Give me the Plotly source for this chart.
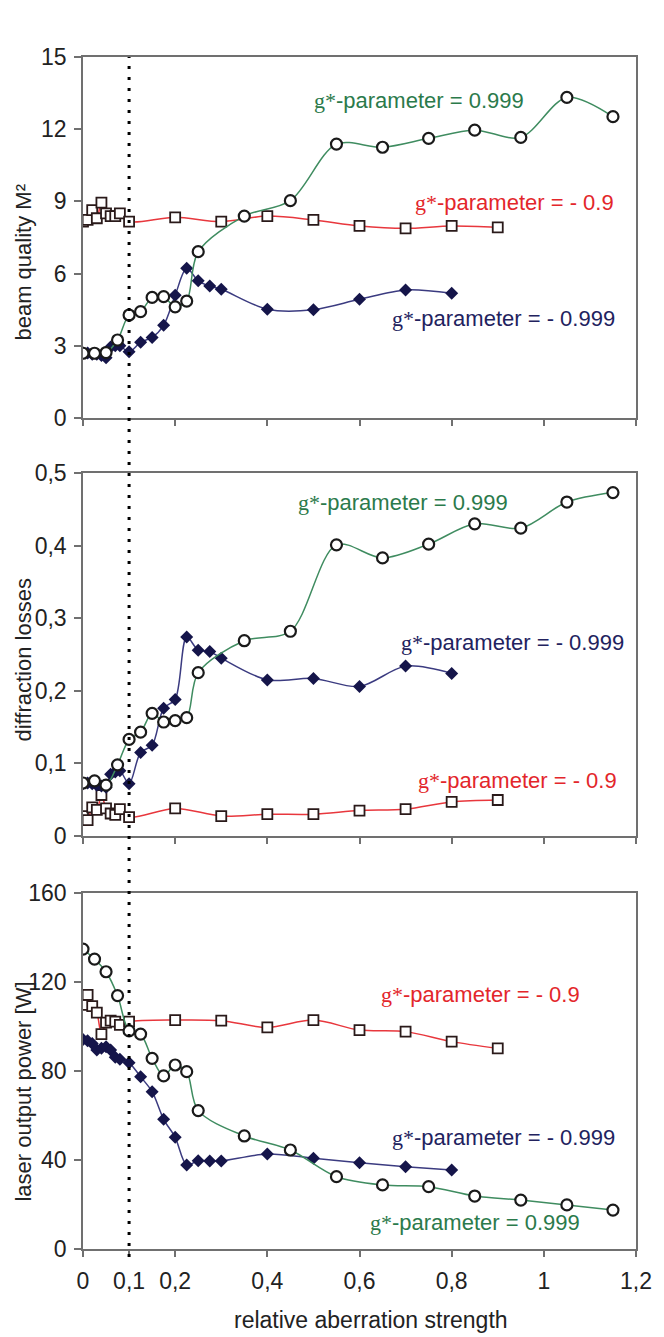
import plotly.graph_objects as go
from plotly.subplots import make_subplots

# ---------------- data ----------------
x_green = [0, 0.025, 0.05, 0.075, 0.1, 0.125, 0.15, 0.175, 0.2, 0.225, 0.25,
           0.35, 0.45, 0.55, 0.65, 0.75, 0.85, 0.95, 1.05, 1.15]
x_red = [0, 0.01, 0.02, 0.03, 0.04, 0.05, 0.06, 0.07, 0.08, 0.1,
         0.2, 0.3, 0.4, 0.5, 0.6, 0.7, 0.8, 0.9]
x_navy = [0, 0.01, 0.02, 0.03, 0.04, 0.05, 0.06, 0.07, 0.08, 0.1, 0.125, 0.15,
          0.175, 0.2, 0.225, 0.25, 0.275, 0.3, 0.4, 0.5, 0.6, 0.7, 0.8]

# beam quality M^2
m2_green = [2.69, 2.69, 2.72, 3.24, 4.28, 4.42, 5.01, 5.04, 4.62, 4.86, 6.91,
            8.39, 9.03, 11.38, 11.25, 11.62, 11.96, 11.66, 13.32, 12.52]
m2_red = [8.16, 8.23, 8.64, 8.3, 8.95, 8.5, 8.39, 8.39, 8.5, 8.16,
          8.34, 8.16, 8.39, 8.23, 7.98, 7.88, 7.98, 7.92]
m2_navy = [2.7, 2.7, 2.65, 2.65, 2.6, 2.5, 2.95, 3.0, 3.0, 2.75, 3.15, 3.35,
           3.85, 5.1, 6.22, 5.7, 5.48, 5.35, 4.52, 4.5, 4.93, 5.32, 5.18]

# diffraction losses
dl_green = [0.073, 0.076, 0.070, 0.098, 0.133, 0.143, 0.169, 0.157, 0.159, 0.163, 0.225,
            0.269, 0.282, 0.401, 0.383, 0.402, 0.430, 0.424, 0.460, 0.473]
dl_red = [0.0275, 0.022, 0.0395, 0.036, 0.0565, 0.038, 0.031, 0.029, 0.037, 0.026,
          0.038, 0.0275, 0.030, 0.030, 0.035, 0.037, 0.047, 0.0496]
dl_navy = [0.072, 0.073, 0.072, 0.070, 0.069, 0.067, 0.085, 0.088, 0.090, 0.072, 0.115, 0.125,
           0.176, 0.188, 0.274, 0.256, 0.254, 0.245, 0.215, 0.217, 0.206, 0.234, 0.224]

# laser output power [W]
pw_green = [134.8, 130.3, 124.6, 113.9, 98.0, 96.6, 85.7, 77.8, 82.7, 79.7, 62.2,
            50.8, 44.5, 32.5, 28.8, 28.0, 23.8, 22.0, 19.8, 17.5]
pw_red = [109.7, 114.2, 109.2, 106.2, 96.6, 101.7, 102.6, 102.2, 100.7, 102.2,
          102.9, 102.6, 99.6, 102.9, 98.4, 97.7, 93.2, 90.2]
pw_navy = [94.2, 93.6, 92.4, 89.4, 90.2, 90.9, 89.4, 86.2, 85.3, 83.7, 77.4, 70.7,
           58.3, 50.2, 37.8, 39.7, 39.6, 39.6, 42.7, 40.8, 38.8, 37.0, 35.5]

x_ticks = [0, 0.1, 0.2, 0.4, 0.6, 0.8, 1, 1.2]
y_titles = ["beam quality M²", "diffraction losses", "laser output power [W]"]
x_title = "relative aberration strength"
lbl_green = "0.999"
lbl_red = "- 0.9"
lbl_navy = "- 0.999"

# ---------------- style ----------------
FONT = "Liberation Sans, Arial, sans-serif"
SERIF = "Liberation Serif"
C_GREEN_L, C_GREEN_T = "#3f8c60", "#2b7a4b"
C_RED_L, C_RED_T = "#e8373d", "#e3262b"
C_NAVY_L, C_NAVY_T = "#3b3b80", "#22225e"
AX = "#707070"

fig = make_subplots(rows=3, cols=1)

panels = [
    (m2_green, m2_red, m2_navy),
    (dl_green, dl_red, dl_navy),
    (pw_green, pw_red, pw_navy),
]

for i, (g, r, n) in enumerate(panels, start=1):
    fig.add_trace(go.Scatter(x=x_red, y=r, mode="lines+markers",
                             line=dict(color=C_RED_L, width=1.5, shape="spline", smoothing=0.9),
                             marker=dict(symbol="square", size=10, color="white",
                                         line=dict(color="#2a1a1a", width=1.8)),
                             showlegend=False), row=i, col=1)
    fig.add_trace(go.Scatter(x=x_navy, y=n, mode="lines+markers",
                             line=dict(color=C_NAVY_L, width=1.5, shape="spline", smoothing=0.9),
                             marker=dict(symbol="diamond", size=10, color="#15154a",
                                         line=dict(width=0)),
                             showlegend=False), row=i, col=1)
    fig.add_trace(go.Scatter(x=x_green, y=g, mode="lines+markers",
                             line=dict(color=C_GREEN_L, width=1.5, shape="spline", smoothing=0.9),
                             marker=dict(symbol="circle", size=11, color="white",
                                         line=dict(color="#1a1a1a", width=2.2)),
                             showlegend=False), row=i, col=1)

# geometry (page body has an 8px margin, compensate for it)
OFF = 8
W, H = 664 - OFF, 1337 - OFF
L, R, T, B = 83 - OFF, 23, 57 - OFF, 88
ph = H - T - B
pw = W - L - R
def py(p):  # page pixel y -> paper
    return 1 - (p - OFF - T) / ph
def px(p):  # page pixel x -> paper
    return (p - OFF - L) / pw

doms = [(py(418), py(57)), (py(836), py(473)), (py(1249), py(893))]
yranges = [[0, 15], [0, 0.5], [0, 160]]
ydticks = [3, 0.1, 40]

for i in range(3):
    xa = "xaxis" if i == 0 else f"xaxis{i+1}"
    ya = "yaxis" if i == 0 else f"yaxis{i+1}"
    fig.layout[xa].update(domain=[0, 1], range=[0, 1.2], showgrid=False, zeroline=False,
                          showline=True, mirror=True, linecolor=AX, linewidth=1.5,
                          ticks="outside", ticklen=6, tickcolor=AX, tickwidth=1.5,
                          tickvals=[0, 0.2, 0.4, 0.6, 0.8, 1.0, 1.2],
                          showticklabels=(i == 2),
                          tickfont=dict(family=FONT, size=23, color="#222"))
    fig.layout[ya].update(domain=list(doms[i]), range=yranges[i], showgrid=False, zeroline=False,
                          showline=True, mirror=True, linecolor=AX, linewidth=1.5,
                          ticks="outside", ticklen=7, tickcolor=AX, tickwidth=1.5,
                          dtick=ydticks[i], tick0=0, ticklabelstandoff=3,
                          tickfont=dict(family=FONT, size=23, color="#222"))

fig.layout.xaxis3.update(tickvals=x_ticks, ticklabelstandoff=5)

# dotted vertical line at 0.1
fig.add_shape(type="line", xref="x3", yref="paper", x0=0.1, x1=0.1,
              y0=py(1257), y1=py(57),
              line=dict(color="black", width=3, dash="3px,8px"))

def lab(val):
    return f"<span style=\"font-family:{SERIF}\">g*</span>-parameter = {val}"

ann = [
    # (xref, yref, x, y, text, color)
    ("x", "y", 0.961, 13.2, lab(lbl_green), C_GREEN_T),
    ("x", "y", 1.157, 8.97, lab(lbl_red), C_RED_T),
    ("x", "y", 1.159, 4.15, lab(lbl_navy), C_NAVY_T),
    ("x2", "y2", 0.927, 0.46, lab(lbl_green), C_GREEN_T),
    ("x2", "y2", 1.178, 0.266, lab(lbl_navy), C_NAVY_T),
    ("x2", "y2", 1.163, 0.077, lab(lbl_red), C_RED_T),
    ("x3", "y3", 1.082, 114.2, lab(lbl_red), C_RED_T),
    ("x3", "y3", 1.159, 50.3, lab(lbl_navy), C_NAVY_T),
    ("x3", "y3", 1.082, 11.7, lab(lbl_green), C_GREEN_T),
]
for xr, yr, xx, yy, txt, col in ann:
    fig.add_annotation(xref=xr, yref=yr, x=xx, y=yy, text=txt, showarrow=False,
                       xanchor="right", yanchor="middle",
                       font=dict(family=FONT, size=22, color=col))

# axis titles as annotations
title_y = [py(262), py(660), py(1092)]
for t, yy in zip(y_titles, title_y):
    fig.add_annotation(xref="paper", yref="paper", x=px(22), y=yy,
                       text=t, textangle=-90, showarrow=False,
                       xanchor="center", yanchor="middle",
                       font=dict(family=FONT, size=22, color="#222"))
fig.add_annotation(xref="paper", yref="paper", x=px(374), y=py(1320),
                   text=x_title, showarrow=False, xanchor="center", yanchor="middle",
                   font=dict(family=FONT, size=23, color="#222"))

fig.update_layout(width=W, height=H, margin=dict(l=L, r=R, t=T, b=B),
                  paper_bgcolor="white", plot_bgcolor="white",
                  separators=",.", showlegend=False)

fig.write_html("out.html")
